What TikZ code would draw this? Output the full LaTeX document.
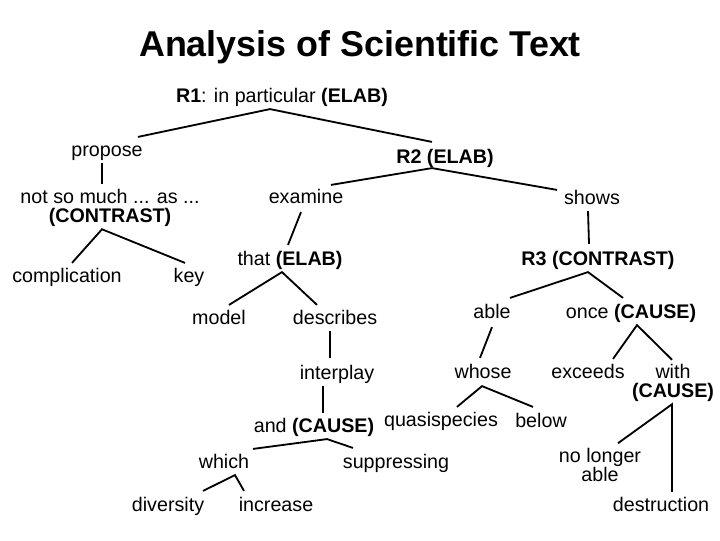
\documentclass[tikz,border=0pt]{standalone}
\usepackage{fontspec}
\setmainfont{Liberation Sans}

\begin{document}
\begin{tikzpicture}[x=0.025cm, y=-0.025cm,
    word/.style={inner sep=2pt, text height=10pt, text depth=2.8pt, font=\fontsize{14}{13.5}\selectfont},
    words/.style={inner sep=2pt, align=center, font=\fontsize{14}{13.5}\selectfont},
    branch/.style={line width=1.3pt}]
    \useasboundingbox (0,0) rectangle (720,540);

    \node (title) at (360,47) {\fontsize{25.5}{30}\selectfont\bfseries Analysis of Scientific Text};

    \node[word] (r1) at (282,97) {\textbf{R1}: in particular \textbf{(ELAB)}};
    \node[word] (propose) at (107,151) {propose};
    \node[word] (r2) at (445,158) {\textbf{R2 (ELAB)}};
    \node[words] (contrast) at (110,207.5) {not so much ... as ...\\\textbf{(CONTRAST)}};
    \node[word] (examine) at (306,198) {examine};
    \node[word] (shows) at (592,199) {shows};
    \node[word] (complication) at (67,277) {complication};
    \node[word] (key) at (189,277) {key};
    \node[word] (that) at (290,260) {that \textbf{(ELAB)}};
    \node[word] (r3) at (598,260) {\textbf{R3 (CONTRAST)}};
    \node[word] (model) at (219,319) {model};
    \node[word] (describes) at (335,319) {describes};
    \node[word] (interplay) at (337,374) {interplay};
    \node[word] (and) at (314,427) {and \textbf{(CAUSE)}};
    \node[word] (which) at (224,463) {which};
    \node[word] (suppressing) at (396,463) {suppressing};
    \node[word] (diversity) at (168,506) {diversity};
    \node[word] (increase) at (276,506) {increase};
    \node[word] (able) at (492,313) {able};
    \node[word] (once) at (631,313) {once \textbf{(CAUSE)}};
    \node[word] (whose) at (483,373) {whose};
    \node[word] (quasispecies) at (441,421) {quasispecies};
    \node[word] (below) at (541,422) {below};
    \node[word] (exceeds) at (588,373) {exceeds};
    \node[words] (with) at (673,382.5) {with\\\textbf{(CAUSE)}};
    \node[words] (nolonger) at (600,465) {no longer\\able};
    \node[word] (destruction) at (661,506) {destruction};

    \draw[branch] ([shift={(31,-2)}]propose.north) -- ([shift={(-12,0)}]r1.south) -- ([shift={(-13,-4)}]r2.north);
    \draw[branch] ([shift={(-5,0)}]propose.south) -- ([shift={(-8,-2)}]contrast.north);
    \draw[branch] ([shift={(5,-2)}]complication.north) -- ([shift={(-8,0)}]contrast.south) -- ([shift={(-4,-2)}]key.north);

    \draw[branch] ([shift={(25,-1)}]examine.north) -- ([shift={(-13,-2)}]r2.south) -- ([shift={(-35,3)}]shows.north);
    \draw[branch] ([shift={(-5,2)}]examine.south) -- ([shift={(-2,-3)}]that.north);
    \draw[branch] ([shift={(-4,0)}]shows.south) -- ([shift={(-9,-4)}]r3.north);

    \draw[branch] ([shift={(10,-2)}]model.north) -- ([shift={(-8,0)}]that.south) -- ([shift={(-18,-2)}]describes.north);
    \draw[branch] ([shift={(-5,0)}]describes.south) -- ([shift={(-7,-4)}]interplay.north);
    \draw[branch] ([shift={(-14,0)}]interplay.south) -- ([shift={(9,-2)}]and.north);
    \draw[branch] ([shift={(29,-2)}]which.north) -- ([shift={(13,0)}]and.south) -- ([shift={(-43,-3)}]suppressing.north);
    \draw[branch] ([shift={(35,-3)}]diversity.north) -- ([shift={(11,0)}]which.south) -- ([shift={(-32,-3)}]increase.north);

    \draw[branch] ([shift={(18,-3)}]able.north) -- ([shift={(-10,0)}]r3.south) -- ([shift={(-8,-3)}]once.north);
    \draw[branch] ([shift={(0,2)}]able.south) -- ([shift={(-3,-3)}]whose.north);
    \draw[branch] ([shift={(16,-2)}]quasispecies.north) -- ([shift={(-1,1)}]whose.south) -- ([shift={(-8,-3)}]below.north);
    \draw[branch] ([shift={(25,-2)}]exceeds.north) -- ([shift={(6,0)}]once.south) -- ([shift={(-1,-1)}]with.north);
    \draw[branch] ([shift={(18,-2)}]nolonger.north) -- ([shift={(-1,0)}]with.south) -- ([shift={(11,-2)}]destruction.north);

\end{tikzpicture}
\end{document}
